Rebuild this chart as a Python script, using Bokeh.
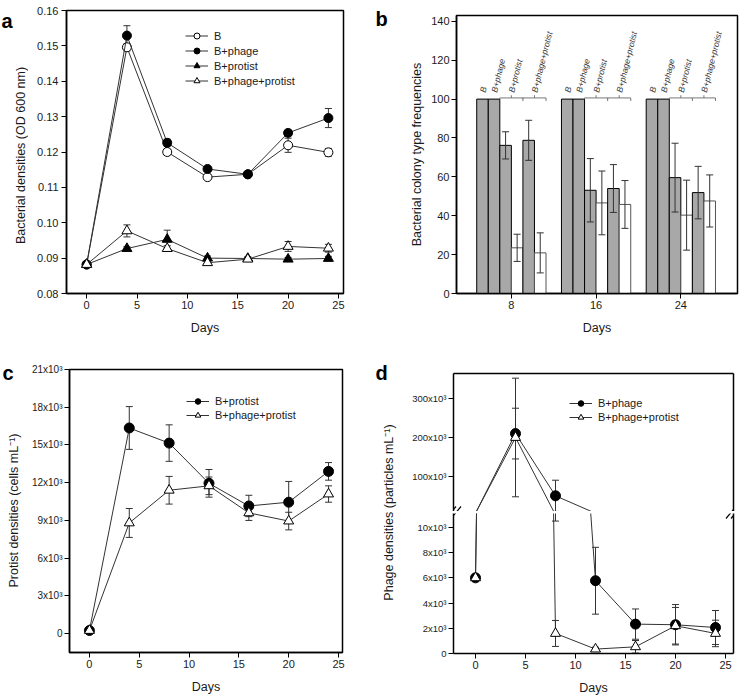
import numpy as np
from bokeh.plotting import figure
from bokeh.models import (Legend, LegendItem, Label, FixedTicker, LinearAxis,
                          NumeralTickFormatter, ColumnDataSource, CDSView, BooleanFilter)
from bokeh.layouts import row, column
from bokeh.embed import file_html
from bokeh.resources import INLINE
from bokeh.core.properties import value

FONT = "Liberation Sans"
LC = "#333333"   # data line colour
EB = "#333333"   # error bar colour

# ---------------- data ----------------
days = [0, 4, 8, 12, 16, 20, 24]
x_ticks = [0, 5, 10, 15, 20, 25]

# panel a : bacterial densities (OD 600 nm)
a_B = [0.0882, 0.1496, 0.1200, 0.1129, 0.1137, 0.1219, 0.1199]
a_B_err = [0.0004, 0.0010, 0.0008, 0.0005, 0.0005, 0.0020, 0.0011]
a_Bph = [0.0882, 0.1529, 0.1226, 0.1152, 0.1137, 0.1254, 0.1296]
a_Bph_err = [0.0004, 0.0028, 0.0010, 0.0005, 0.0005, 0.0008, 0.0027]
a_Bpr = [0.0882, 0.0927, 0.0953, 0.0900, 0.0899, 0.0897, 0.0899]
a_Bpr_err = [0.0004, 0.0005, 0.0026, 0.0006, 0.0005, 0.0005, 0.0006]
a_Bphpr = [0.0882, 0.0977, 0.0927, 0.0887, 0.0897, 0.0933, 0.0928]
a_Bphpr_err = [0.0004, 0.0017, 0.0008, 0.0005, 0.0005, 0.0014, 0.0011]
a_yticks = [0.08, 0.09, 0.10, 0.11, 0.12, 0.13, 0.14, 0.15, 0.16]

# panel b : colony type frequencies
b_days = [8, 16, 24]
b_B = [100, 100, 100]
b_Bph = [100, 100, 100]
b_Bpr_gray = [76.2, 53.1, 59.6]
b_Bpr_gray_err = [7.0, 16.3, 17.7]
b_Bpr_white = [23.5, 46.6, 40.3]
b_Bpr_white_err = [7.0, 16.4, 18.0]
b_Bphpr_gray = [78.8, 54.0, 51.9]
b_Bphpr_gray_err = [10.3, 12.3, 13.5]
b_Bphpr_white = [20.9, 45.8, 47.6]
b_Bphpr_white_err = [10.3, 12.3, 13.4]
b_names = ["B", "B+phage", "B+protist", "B+phage+protist"]
b_yticks = [0, 20, 40, 60, 80, 100, 120, 140]

# panel c : protist densities
c_Bpr = [250, 16350, 15150, 11950, 10150, 10450, 12900]
c_Bpr_err = [0, 1700, 1450, 1100, 850, 1650, 700]
c_Bphpr = [250, 8800, 11400, 11750, 9600, 8950, 11100]
c_Bphpr_err = [0, 1150, 1100, 700, 600, 700, 650]
c_ticks = [0, 3000, 6000, 9000, 12000, 15000, 18000, 21000]
c_labels = ["0", "3x10³", "6x10³", "9x10³", "12x10³", "15x10³", "18x10³", "21x10³"]

# panel d : phage densities (broken axis)
d_Bph = [6000, 210000, 50500, 5770, 2330, 2280, 2060]
d_Bph_err = [0, 65000, 40000, 2650, 1200, 1600, 1350]
d_Bphpr = [6000, 200000, 1590, 350, 530, 2200, 1590]
d_Bphpr_err = [0, 152000, 1030, 150, 500, 1450, 1050]
d_up_range = (10300, 364000)
d_lo_range = (0, 11100)
d_up_ticks = [100000, 200000, 300000]
d_up_labels = ["100x10³", "200x10³", "300x10³"]
d_lo_ticks = [0, 2000, 4000, 6000, 8000, 10000]
d_lo_labels = ["0", "2x10³", "4x10³", "6x10³", "8x10³", "10x10³"]


# ---------------- helpers ----------------
def make_fig(w, h, bl, br, bt, bb, xr, yr, **kw):
    p = figure(width=w, height=h, x_range=xr, y_range=yr, output_backend="svg",
               toolbar_location=None, min_border_left=bl, min_border_right=br,
               min_border_top=bt, min_border_bottom=bb, frame_align=False, **kw)
    p.grid.visible = False
    p.outline_line_color = "black"
    p.outline_line_width = 1.5
    p.background_fill_color = "white"
    p.border_fill_color = "white"
    return p


def strip(w, h):
    p = figure(width=w, height=h, x_range=(0, 1), y_range=(0, 1), x_axis_type=None,
               y_axis_type=None, output_backend="svg", toolbar_location=None,
               min_border=0, frame_align=False)
    p.outline_line_color = None
    p.border_fill_color = "white"
    return p


def style_axis(ax, size="11px", standoff=2, label_standoff=8):
    ax.axis_line_color = "black"
    ax.axis_line_width = 1.5
    ax.major_tick_line_color = "black"
    ax.major_tick_line_width = 1
    ax.major_tick_in = 0
    ax.major_tick_out = 5
    ax.minor_tick_line_color = None
    ax.major_label_text_font = FONT
    ax.major_label_text_font_size = size
    ax.major_label_text_color = "#1a1a1a"
    ax.major_label_standoff = standoff
    ax.axis_label_text_font = FONT
    ax.axis_label_text_font_size = "12.5px"
    ax.axis_label_text_font_style = "normal"
    ax.axis_label_text_color = "#1a1a1a"
    ax.axis_label_standoff = label_standoff


def blank_axis(ax):
    ax.ticker = FixedTicker(ticks=[])
    ax.axis_line_color = "black"
    ax.axis_line_width = 1.5
    ax.major_tick_out = 0
    ax.major_tick_in = 0
    ax.minor_tick_line_color = None
    ax.major_label_standoff = 0
    ax.major_label_text_font_size = "0px"


def in_range(vals, yr):
    if yr is None:
        return [True] * len(vals)
    return [yr[0] <= v <= yr[1] for v in vals]


def error_bars(p, x, y, err, cap=7, yr=None):
    lo = [a - e for a, e in zip(y, err)]
    hi = [a + e for a, e in zip(y, err)]
    p.segment(x0=x, y0=lo, x1=x, y1=hi, line_color=EB, line_width=1)
    for yy in (hi, lo):
        src = ColumnDataSource(dict(x=x, y=yy))
        p.scatter("x", "y", source=src, view=CDSView(filter=BooleanFilter(in_range(yy, yr))),
                  marker="dash", size=cap, line_color=EB, line_width=1)


def series(p, x, y, marker, fill, size, yr=None):
    ln = p.line(x, y, line_color=LC, line_width=1)
    src = ColumnDataSource(dict(x=x, y=y))
    sc = p.scatter("x", "y", source=src, view=CDSView(filter=BooleanFilter(in_range(y, yr))),
                   marker=marker, size=size, fill_color=fill,
                   line_color="black", line_width=1)
    return [ln, sc]


def add_legend(p, items, x, y, row_h):
    lg = Legend(items=[LegendItem(label=l, renderers=r) for l, r in items],
                location=(x, y), padding=0, margin=0, spacing=0,
                glyph_width=23, glyph_height=row_h, label_height=row_h,
                label_standoff=6, label_text_font=FONT,
                label_text_font_size="11px", label_text_color="#1a1a1a",
                border_line_color=None, background_fill_alpha=0)
    p.add_layout(lg)


def letter(p, txt, x, y):
    p.add_layout(Label(x=x, y=y, x_units="screen", y_units="screen", text=txt,
                       text_font=FONT, text_font_size="20px",
                       text_font_style="bold", text_align="left",
                       text_baseline="alphabetic", text_color="black"))


def ylabel(p, txt, x, y):
    p.add_layout(Label(x=x, y=y, x_units="screen", y_units="screen", text=txt,
                       angle=np.pi / 2, text_align="center", text_baseline="middle",
                       text_font=FONT, text_font_size="12.5px", text_color="#1a1a1a"))


# ---------------- panel a ----------------
sa = strip(28, 347)
letter(sa, "a", 1, 327)
ylabel(sa, "Bacterial densities (OD 600 nm)", 20, 192)

pa = make_fig(345, 347, 38, 30, 10, 54, (-2, 25.5), (0.08, 0.16))
for ax in pa.xaxis:
    style_axis(ax, standoff=2, label_standoff=9)
    ax.ticker = FixedTicker(ticks=x_ticks)
    ax.axis_label = "Days"
for ax in pa.yaxis:
    style_axis(ax, standoff=3)
    ax.ticker = FixedTicker(ticks=a_yticks)
    ax.formatter = NumeralTickFormatter(format="0.00")

for y, e in [(a_B, a_B_err), (a_Bph, a_Bph_err), (a_Bpr, a_Bpr_err), (a_Bphpr, a_Bphpr_err)]:
    error_bars(pa, days, y, e)
rB = series(pa, days, a_B, "circle", "white", 9)
rBph = series(pa, days, a_Bph, "circle", "black", 9)
rBpr = series(pa, days, a_Bpr, "triangle", "black", 10)
rBphpr = series(pa, days, a_Bphpr, "triangle", "white", 10)
add_legend(pa, [("B", rB), ("B+phage", rBph), ("B+protist", rBpr),
                ("B+phage+protist", rBphpr)], 119, 205, 15)

# ---------------- panel b ----------------
sb = strip(55, 347)
letter(sb, "b", 2, 329)
ylabel(sb, "Bacterial colony type frequencies", 43, 193)

pb = make_fig(316, 347, 27, 7, 15, 54, (2.82, 29.35), (0, 143))
for ax in pb.xaxis:
    style_axis(ax, standoff=2, label_standoff=9)
    ax.ticker = FixedTicker(ticks=b_days)
    ax.axis_label = "Days"
for ax in pb.yaxis:
    style_axis(ax, standoff=2)
    ax.ticker = FixedTicker(ticks=b_yticks)

bw = 1.09
offs = [-2.5, -1.5, -0.5, 0.5, 1.5, 2.5]


def bx(k):
    return [d + offs[k] * bw for d in b_days]


for k, vals, fill, lc in [(0, b_B, "#a8a8a8", "black"), (1, b_Bph, "#a8a8a8", "black"),
                          (2, b_Bpr_gray, "#a8a8a8", "black"), (3, b_Bpr_white, "white", "#555555"),
                          (4, b_Bphpr_gray, "#a8a8a8", "black"), (5, b_Bphpr_white, "white", "#555555")]:
    pb.vbar(x=bx(k), top=vals, bottom=0, width=bw, fill_color=fill,
            line_color=lc, line_width=1)
for k, vals, err in [(2, b_Bpr_gray, b_Bpr_gray_err), (3, b_Bpr_white, b_Bpr_white_err),
                     (4, b_Bphpr_gray, b_Bphpr_gray_err), (5, b_Bphpr_white, b_Bphpr_white_err)]:
    error_bars(pb, bx(k), vals, err, cap=7)

# brackets over the paired bars and rotated labels
bxs, bys = [], []
tx, ty, tt = [], [], []
for d in b_days:
    for k0 in (2, 4):
        left = d + (offs[k0] - 0.5) * bw
        right = d + (offs[k0 + 1] + 0.5) * bw
        mid = 0.5 * (left + right)
        bxs += [[left, left, right, right], [mid, mid]]
        bys += [[100, 100.6, 100.6, 99.0], [100.6, 102.0]]
    tx += [d + offs[0] * bw, d + offs[1] * bw, d + 0.0 * bw, d + 2.0 * bw]
    ty += [103.5] * 4
    tt += b_names
pb.multi_line(xs=bxs, ys=bys, line_color="#777777", line_width=1)
pb.text(x=tx, y=ty, text=tt, angle=np.deg2rad(76), text_font=value(FONT),
        text_font_style="italic", text_font_size="8.5px", text_color="#333333",
        text_align="left", text_baseline="middle")

# ---------------- panel c ----------------
sc_ = strip(28, 350)
letter(sc_, "c", 2, 325)
ylabel(sc_, "Protist densities (cells mL⁻¹)", 13, 187)

pc = make_fig(345, 350, 38, 31, 22, 45, (-2, 25.4), (-1500, 21000))
for ax in pc.xaxis:
    style_axis(ax, standoff=2, label_standoff=9)
    ax.ticker = FixedTicker(ticks=x_ticks)
    ax.axis_label = "Days"
for ax in pc.yaxis:
    style_axis(ax, size="10px", standoff=2)
    ax.ticker = FixedTicker(ticks=c_ticks)
    ax.major_label_overrides = {t: l for t, l in zip(c_ticks, c_labels)}
error_bars(pc, days, c_Bpr, c_Bpr_err)
error_bars(pc, days, c_Bphpr, c_Bphpr_err)
rcBpr = series(pc, days, c_Bpr, "circle", "black", 10)
rcBphpr = series(pc, days, c_Bphpr, "triangle", "white", 10)
add_legend(pc, [("B+protist", rcBpr), ("B+phage+protist", rcBphpr)], 117, 230, 14)

# ---------------- panel d ----------------
sd = strip(30, 350)
letter(sd, "d", 2, 325)
ylabel(sd, "Phage densities (particles mL⁻¹)", 15, 185)

d_xr = (-2.2, 25.8)
FW, HU, HL = 280, 138, 140          # frame width, upper / lower frame heights (px)
pdu = make_fig(341, 164, 50, 11, 26, 0, d_xr, d_up_range, x_axis_type=None)
pdd = make_fig(341, 184, 50, 11, 0, 44, pdu.x_range, d_lo_range)
pdu.outline_line_color = None
pdd.outline_line_color = None
for ax in pdu.yaxis:
    style_axis(ax, size="9.5px", standoff=2)
    ax.ticker = FixedTicker(ticks=d_up_ticks)
    ax.major_label_overrides = {t: l for t, l in zip(d_up_ticks, d_up_labels)}
for ax in pdd.yaxis:
    style_axis(ax, size="9.5px", standoff=2)
    ax.ticker = FixedTicker(ticks=d_lo_ticks)
    ax.major_label_overrides = {t: l for t, l in zip(d_lo_ticks, d_lo_labels)}
for ax in pdd.xaxis:
    style_axis(ax, standoff=2, label_standoff=9)
    ax.ticker = FixedTicker(ticks=x_ticks)
    ax.axis_label = "Days"
top_ax = LinearAxis()
blank_axis(top_ax)
pdu.add_layout(top_ax, "above")
for p in (pdu, pdd):
    r_ax = LinearAxis()
    blank_axis(r_ax)
    p.add_layout(r_ax, "right")

d_items = None
for p, yr in ((pdu, d_up_range), (pdd, d_lo_range)):
    error_bars(p, days, d_Bph, d_Bph_err, yr=yr)
    error_bars(p, days, d_Bphpr, d_Bphpr_err, yr=yr)
    r1 = series(p, days, d_Bph, "circle", "black", 10, yr=yr)
    r2 = series(p, days, d_Bphpr, "triangle", "white", 10, yr=yr)
    if p is pdu:
        d_items = [("B+phage", r1), ("B+phage+protist", r2)]
add_legend(pdu, d_items, 116, 87, 14)

# axis-break marks "//" on the left and right axes, split over both halves
kx = (d_xr[1] - d_xr[0]) / FW
ku = (d_up_range[1] - d_up_range[0]) / HU
kl = (d_lo_range[1] - d_lo_range[0]) / HL
for p, yb, ky in ((pdu, d_up_range[0] - 1 * ku, ku), (pdd, d_lo_range[1] + 1 * kl, kl)):
    mxs, mys = [], []
    for xc in d_xr:
        for off in (-2.5, 2.5):
            mxs.append([xc + (off - 5) * kx, xc + (off + 5) * kx])
            mys.append([yb - 6 * ky, yb + 6 * ky])
    p.multi_line(xs=mxs, ys=mys, line_color="black", line_width=1.2)

layout = column(row(sa, pa, sb, pb), row(sc_, pc, sd, column(pdu, pdd, spacing=2)))
open("out.html", "w").write(file_html(layout, INLINE))
